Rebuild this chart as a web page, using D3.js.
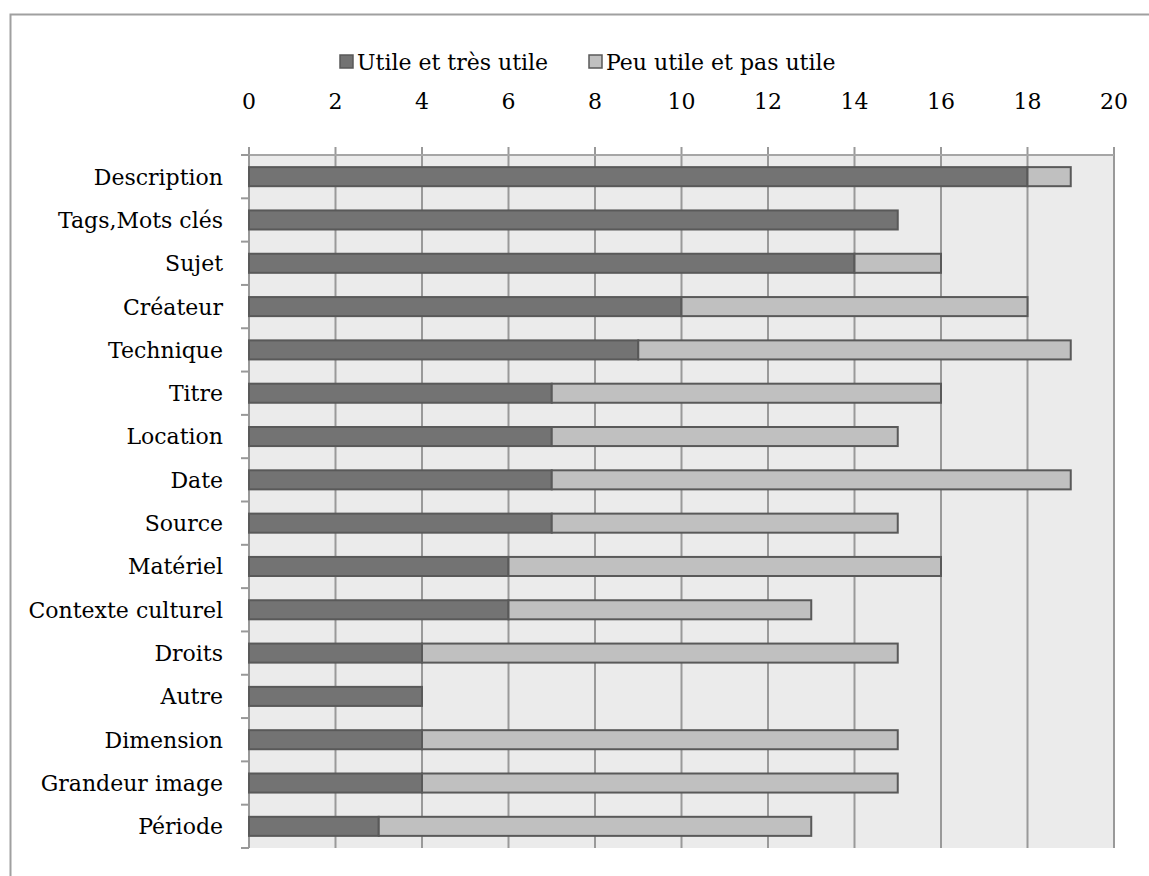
<!DOCTYPE html>
<html><head><meta charset="utf-8">
<script src="https://cdn.jsdelivr.net/npm/d3@7"></script>
<style>
html,body{margin:0;padding:0;background:#fff;}
svg{display:block;}
text{font-family:"DejaVu Serif","Liberation Serif",serif;fill:#000;}
</style></head>
<body><svg id="chart" width="1149" height="876"></svg>
<script>
// Metadata fields and how many respondents rated each one
const categories = ["Description","Tags,Mots clés","Sujet","Créateur","Technique","Titre","Location","Date","Source","Matériel","Contexte culturel","Droits","Autre","Dimension","Grandeur image","Période"];
const utile = [18,15,14,10,9,7,7,7,7,6,6,4,4,4,4,3];
const peuUtile = [1,0,2,8,10,9,8,12,8,10,7,11,0,11,11,10];
const seriesNames = ["Utile et très utile","Peu utile et pas utile"];
const xTicks = [0,2,4,6,8,10,12,14,16,18,20];

const colors = ["#737373","#c0c0c0"];
const svg = d3.select("#chart");

// outer frame (right and bottom edges fall outside the page)
svg.append("path").attr("d","M10.5,876 V14.5 H1149")
  .attr("fill","none").attr("stroke","#a0a0a0").attr("stroke-width",2);

const L=249, R=1114, T=155, B=848;
const x = d3.scaleLinear().domain([0,20]).range([L,R]);
const y = d3.scaleBand().domain(categories).range([T,B]).paddingInner(0.56).paddingOuter(0.28);

svg.append("rect").attr("x",L).attr("y",T).attr("width",R-L).attr("height",B-T).attr("fill","#ebebeb");

// vertical gridlines with tick marks above the plot
const g = svg.append("g");
g.selectAll("line.grid").data(xTicks).join("line")
  .attr("x1",d=>x(d)).attr("x2",d=>x(d)).attr("y1",T-8).attr("y2",B)
  .attr("stroke","#999").attr("stroke-width",2);
g.append("line").attr("x1",L).attr("x2",R).attr("y1",T).attr("y2",T).attr("stroke","#a6a6a6").attr("stroke-width",2);

// tick labels on top
svg.append("g").selectAll("text").data(xTicks).join("text")
  .attr("x",d=>x(d)).attr("y",109).attr("text-anchor","middle")
  .attr("font-size",22).text(d=>d);

// left axis with ticks at band boundaries
const bounds = d3.range(categories.length+1).map(i=>T+i*(B-T)/categories.length);
g.selectAll("line.yt").data(bounds).join("line")
  .attr("x1",L-8).attr("x2",L).attr("y1",d=>d).attr("y2",d=>d)
  .attr("stroke","#999").attr("stroke-width",2);
g.append("line").attr("x1",L).attr("x2",L).attr("y1",T).attr("y2",B).attr("stroke","#999").attr("stroke-width",2);

// category labels
svg.append("g").selectAll("text").data(categories).join("text")
  .attr("x",L-26).attr("y",d=>y(d)+y.bandwidth()/2).attr("dy","0.36em")
  .attr("text-anchor","end").attr("font-size",22).text(d=>d);

// stacked bars
const rows = categories.map((c,i)=>({c, a:utile[i], b:peuUtile[i]}));
const bars = svg.append("g");
rows.forEach(r=>{
  bars.append("rect").attr("x",x(0)).attr("y",y(r.c))
    .attr("width",x(r.a)-x(0)).attr("height",y.bandwidth())
    .attr("fill",colors[0]).attr("stroke","#595959").attr("stroke-width",2);
  if(r.b>0){
    bars.append("rect").attr("x",x(r.a)).attr("y",y(r.c))
      .attr("width",x(r.a+r.b)-x(r.a)).attr("height",y.bandwidth())
      .attr("fill",colors[1]).attr("stroke","#595959").attr("stroke-width",2);
  }
});

// legend
const leg = svg.append("g");
const legX = [340,589];
seriesNames.forEach((n,i)=>{
  leg.append("rect").attr("x",legX[i]).attr("y",55).attr("width",13).attr("height",13)
    .attr("fill",colors[i]).attr("stroke","#595959").attr("stroke-width",1.5);
  leg.append("text").attr("x",legX[i]+17).attr("y",62).attr("dy","0.36em")
    .attr("font-size",22).text(n);
});
</script></body></html>
